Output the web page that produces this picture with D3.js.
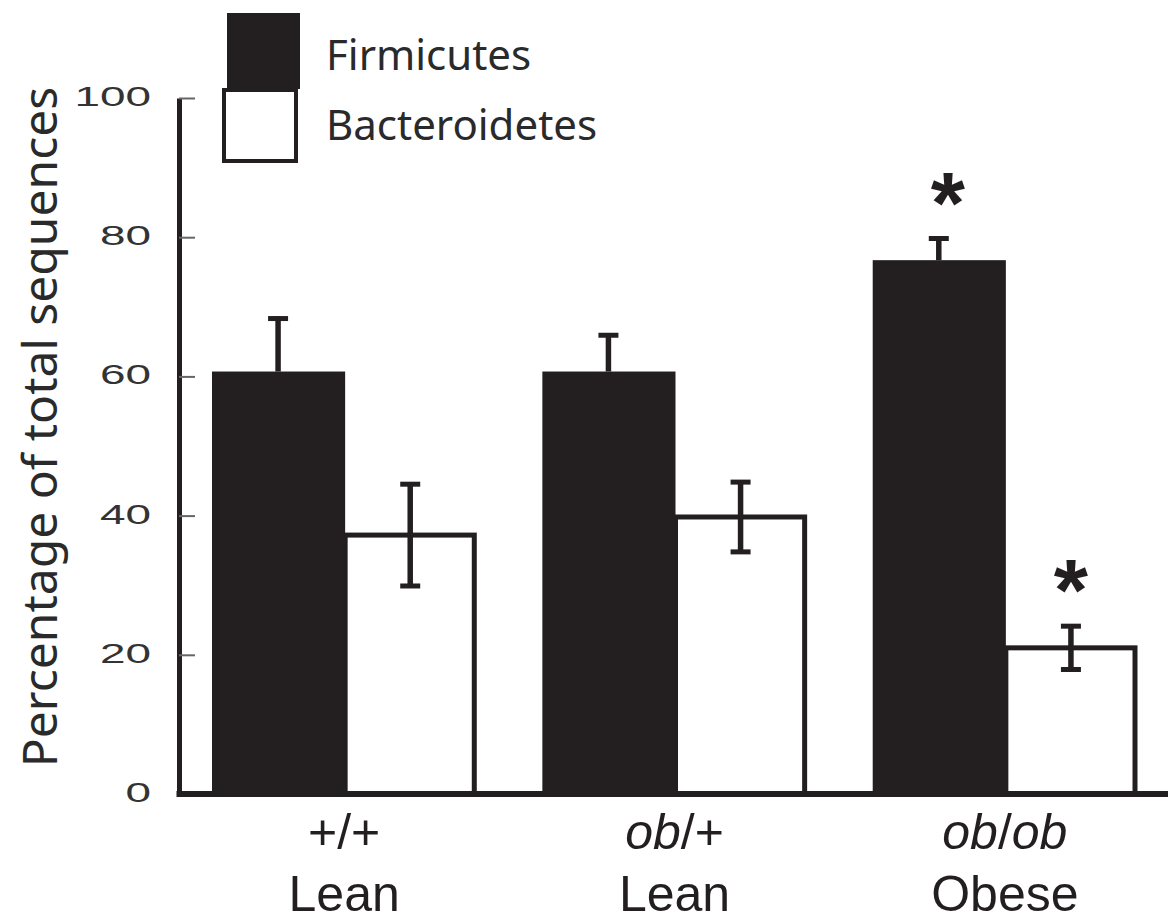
<!DOCTYPE html>
<html>
<head>
<meta charset="utf-8">
<script src="https://cdn.jsdelivr.net/npm/d3@7"></script>
<style>
  html, body { margin: 0; padding: 0; background: #fff; }
  svg { display: block; }
</style>
</head>
<body>
<svg id="chart" width="1172" height="923"></svg>
<script>
// ---- data ----
const groups = ["wt", "het", "obob"];
const genotypeLabels = [[["+/+", false]], [["ob", true], ["/+", false]], [["ob", true], ["/", false], ["ob", true]]];
const phenotypeLabels = ["Lean", "Lean", "Obese"];
const series = ["Firmicutes", "Bacteroidetes"];
const firmicutes = [60.7, 60.7, 76.7];
const firmicutesSE = [7.9, 5.5, 3.4];
const bacteroidetes = [37.2, 39.8, 21.0];
const bacteroidetesSE = [7.6, 5.3, 3.4];
const sigFirm = [false, false, true];
const sigBact = [false, false, true];
const yTicks = [0, 20, 40, 60, 80, 100];
const yTitle = "Percentage of total sequences";

const ink = "#231f20";
const svg = d3.select("#chart");

const y = d3.scaleLinear().domain([0, 100]).range([794, 98]);
const x0 = d3.scaleBand().domain(groups).range([212, 1137]).paddingInner(0.2).paddingOuter(0);
const x1 = d3.scaleBand().domain(series).range([0, x0.bandwidth()]).padding(0);

const data = groups.map((g, i) => ({
  g,
  vals: [
    { s: "Firmicutes", v: firmicutes[i], se: firmicutesSE[i], sig: sigFirm[i] },
    { s: "Bacteroidetes", v: bacteroidetes[i], se: bacteroidetesSE[i], sig: sigBact[i] }
  ]
}));

// ---- bars ----
const gGroups = svg.append("g").selectAll("g").data(data).join("g")
  .attr("transform", d => `translate(${x0(d.g)},0)`);

gGroups.each(function(d) {
  const g = d3.select(this);
  const b = d.vals[1];
  g.append("rect")
    .attr("x", x1(b.s) + 1)
    .attr("y", y(b.v))
    .attr("width", x1.bandwidth() - 3)
    .attr("height", y(0) - y(b.v))
    .attr("fill", "#fff")
    .attr("stroke", ink)
    .attr("stroke-width", 5);
  const f = d.vals[0];
  g.append("rect")
    .attr("x", x1(f.s))
    .attr("y", y(f.v))
    .attr("width", x1.bandwidth() + 1)
    .attr("height", y(0) - y(f.v))
    .attr("fill", ink);
});

// ---- error bars + significance marks ----
const capW = 20;
gGroups.each(function(d) {
  const g = d3.select(this);
  d.vals.forEach((b, k) => {
    const cx = x1(b.s) + x1.bandwidth() / 2;
    const top = y(b.v + b.se), bot = y(b.v - b.se);
    g.append("line").attr("x1", cx).attr("x2", cx)
      .attr("y1", top).attr("y2", k === 0 ? y(b.v) : bot)
      .attr("stroke", ink).attr("stroke-width", 5.5);
    g.append("line").attr("x1", cx - capW / 2).attr("x2", cx + capW / 2)
      .attr("y1", top + 2).attr("y2", top + 2)
      .attr("stroke", ink).attr("stroke-width", 5);
    if (k === 1) {
      g.append("line").attr("x1", cx - capW / 2).attr("x2", cx + capW / 2)
        .attr("y1", bot - 2).attr("y2", bot - 2)
        .attr("stroke", ink).attr("stroke-width", 5);
    }
    if (b.sig) {
      g.append("text")
        .attr("x", cx + (k === 0 ? 9 : 0))
        .attr("y", top - 4)
        .attr("text-anchor", "middle")
        .attr("font-family", "Liberation Sans, Arial, sans-serif")
        .attr("font-weight", "bold")
        .attr("font-size", 88)
        .attr("fill", ink)
        .text("*");
    }
  });
});

// ---- y axis ----
const sx = 1.7;
const yAxis = d3.axisLeft(y).tickValues(yTicks).tickSizeInner(-16).tickSizeOuter(0).tickPadding(28);
const gy = svg.append("g").attr("transform", "translate(179,0)").call(yAxis);
gy.select(".domain").attr("stroke", ink).attr("stroke-width", 5);
gy.selectAll(".tick line").attr("stroke", "#666").attr("stroke-width", 2);
gy.selectAll(".tick text")
  .attr("font-family", "Liberation Sans, Arial, sans-serif")
  .attr("font-size", 27)
  .attr("fill", "#333")
  .attr("x", -28 / sx)
  .attr("dy", "0.28em")
  .attr("transform", `scale(${sx},1)`);

// ---- x axis ----
svg.append("line")
  .attr("x1", 176.5).attr("x2", 1168)
  .attr("y1", y(0)).attr("y2", y(0))
  .attr("stroke", ink).attr("stroke-width", 6);

const labelFont = "Liberation Sans, Arial, Helvetica, sans-serif";
groups.forEach((g, i) => {
  const cx = x0(g) + x0.bandwidth() / 2;
  const t = svg.append("text")
    .attr("x", cx).attr("y", 849)
    .attr("text-anchor", "middle")
    .attr("font-family", labelFont)
    .attr("font-size", 50)
    .attr("fill", ink);
  genotypeLabels[i].forEach(([txt, it]) => {
    t.append("tspan").attr("font-style", it ? "italic" : "normal").text(txt);
  });
  svg.append("text")
    .attr("x", cx).attr("y", 911)
    .attr("text-anchor", "middle")
    .attr("font-family", labelFont)
    .attr("font-size", 50)
    .attr("fill", ink)
    .text(phenotypeLabels[i]);
});

// ---- y title ----
svg.append("text")
  .attr("transform", "translate(57,427) rotate(-90)")
  .attr("text-anchor", "middle")
  .attr("font-family", "Noto Sans, Open Sans, sans-serif")
  .attr("font-size", 48)
  .attr("fill", "#2a2a2a")
  .text(yTitle);

// ---- legend ----
const legend = svg.append("g");
legend.append("rect").attr("x", 227).attr("y", 13).attr("width", 73).attr("height", 76).attr("fill", ink);
legend.append("rect").attr("x", 224).attr("y", 90).attr("width", 72).attr("height", 71)
  .attr("fill", "#fff").attr("stroke", ink).attr("stroke-width", 4);
legend.selectAll("text.lg").data(series).join("text")
  .attr("class", "lg")
  .attr("x", 326)
  .attr("y", (d, i) => 70 + i * 70)
  .attr("font-family", "Noto Sans, Open Sans, sans-serif")
  .attr("font-size", 42)
  .attr("fill", "#2a2a2a")
  .text(d => d);
</script>
</body>
</html>
